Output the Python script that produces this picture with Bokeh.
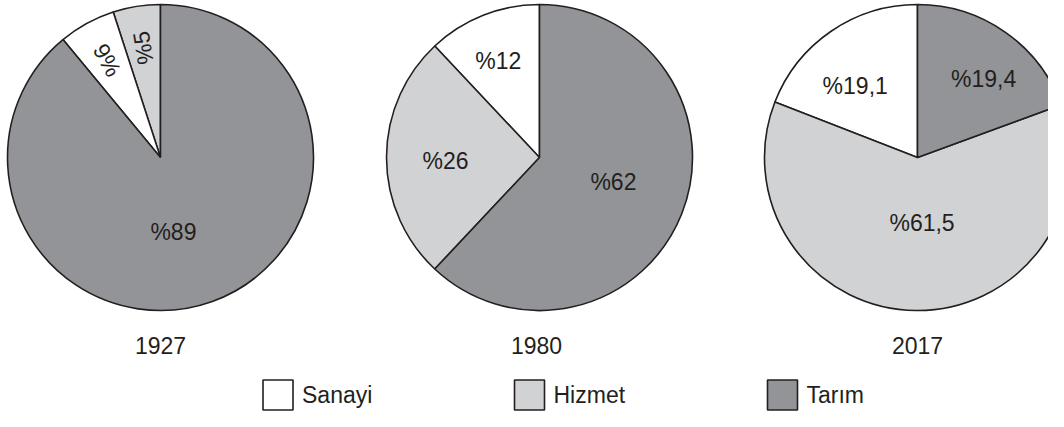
import math
from bokeh.plotting import figure
from bokeh.models import ColumnDataSource, Range1d
from bokeh.core.properties import value
from bokeh.embed import file_html
from bokeh.resources import INLINE

# ---- data ----
years = ["1927", "1980", "2017"]
categories = ["Sanayi", "Hizmet", "Tarım"]
sanayi = [6, 12, 19.1]
hizmet = [5, 26, 61.5]
tarim = [89, 62, 19.4]
# counter-clockwise order of slices from 12 o'clock, per pie
slice_order = [["Hizmet", "Sanayi", "Tarım"],
               ["Sanayi", "Hizmet", "Tarım"],
               ["Sanayi", "Hizmet", "Tarım"]]

# ---- style / layout ----
W, H = 1048, 411
colors = {"Sanayi": "#ffffff", "Hizmet": "#d1d2d4", "Tarım": "#939497"}
edge = "#231f20"
font = "Liberation Sans"
fs = "23px"
centers_x = [160, 539, 917]
center_y = H - 157
R = 153
year_x = [160, 536, 917]
year_y = H - 345
# label placement (radius px, angle nudge deg, rotated?) per pie, keyed by category
label_place = [
    {"Hizmet": (111, 0, True), "Sanayi": (111, 0, True), "Tarım": (76, -10, False)},
    {"Sanayi": (105, 1.5, False), "Hizmet": (94, 2, False), "Tarım": (78, 3, False)},
    {"Sanayi": (95, 6.6, False), "Hizmet": (66, 4.5, False), "Tarım": (103, -5, False)},
]

vals = {"Sanayi": sanayi, "Hizmet": hizmet, "Tarım": tarim}


def fmt(v):
    return ("%" + f"{v:g}").replace(".", ",")


p = figure(width=W, height=H, x_range=Range1d(0, W), y_range=Range1d(0, H),
           output_backend="svg", toolbar_location=None, min_border=0)
p.axis.visible = False
p.grid.visible = False
p.outline_line_color = None
p.background_fill_color = "white"
p.border_fill_color = "white"

ws = dict(x=[], y=[], start=[], end=[], color=[])
ts = dict(x=[], y=[], text=[], angle=[])
for i, yr in enumerate(years):
    cx = centers_x[i]
    total = sum(vals[c][i] for c in categories)
    a = 90.0
    for c in slice_order[i]:
        v = vals[c][i]
        span = 360.0 * v / total
        ws["x"].append(cx); ws["y"].append(center_y)
        ws["start"].append(math.radians(a)); ws["end"].append(math.radians(a + span))
        ws["color"].append(colors[c])
        mid = a + span / 2
        r, nudge, rot = label_place[i][c]
        la = math.radians(mid + nudge)
        ts["x"].append(cx + r * math.cos(la)); ts["y"].append(center_y + r * math.sin(la))
        ts["text"].append(fmt(v))
        ts["angle"].append(math.radians(mid) if rot else 0.0)
        a += span

p.wedge(x="x", y="y", radius=R, radius_units="screen", start_angle="start", end_angle="end",
        fill_color="color", line_color=edge, line_width=1.6, source=ColumnDataSource(ws))
p.text(x="x", y="y", text="text", angle="angle", source=ColumnDataSource(ts),
       text_font=value(font), text_font_size=fs, text_color=edge,
       text_align="center", text_baseline="middle")

# year captions
p.text(x=year_x, y=[year_y] * 3, text=years, text_font=value(font), text_font_size=fs,
       text_color=edge, text_align="center", text_baseline="middle")

# legend
leg_x = [277.5, 529, 782]
leg_y = 16.5
p.rect(x=leg_x, y=[leg_y] * 3, width=30, height=30, width_units="screen", height_units="screen",
       fill_color=[colors[c] for c in categories], line_color=edge, line_width=1.6)
p.text(x=[x + 24 for x in leg_x], y=[leg_y] * 3, text=categories, text_font=value(font),
       text_font_size=fs, text_color=edge, text_align="left", text_baseline="middle")

open("out.html", "w").write(file_html(p, INLINE))
